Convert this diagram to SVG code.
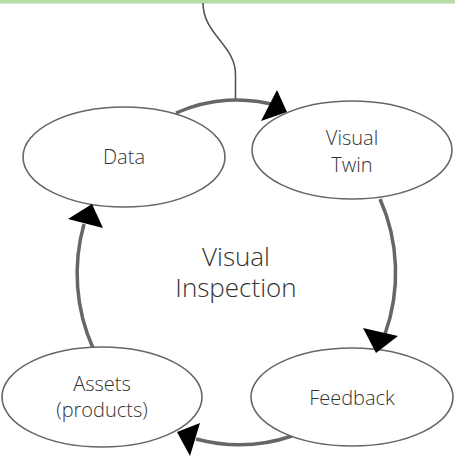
<svg xmlns="http://www.w3.org/2000/svg" width="455" height="460" viewBox="0 0 455 460">
  <style>
    .node { fill: #ffffff; stroke: #666666; stroke-width: 1.6; }
    .label { font-family: "Open Sans", "Liberation Sans", sans-serif; font-weight: 300; font-size: 20px; fill: #333333; text-anchor: middle; }
    .title { font-size: 26px; }
    .cycle { fill: none; stroke: #666666; stroke-width: 3.5; }
    .lead { fill: none; stroke: #555555; stroke-width: 1.6; }
    .head { fill: #000000; stroke: none; }
  </style>

  <!-- top band -->
  <rect x="0" y="0" width="455" height="3.5" fill="#b6dca7"/>

  <!-- cycle connectors -->
  <g id="connectors">
    <path class="lead" d="M203 3 C203 35 236 45 235.5 75 L235.5 101"/>
    <path class="cycle" d="M176 113 A158.5 170.5 0 0 1 279 106"/>
    <path class="cycle" d="M380 199 A158.5 170.5 0 0 1 385 334"/>
    <path class="cycle" d="M292 436 Q245 452 196 439"/>
    <path class="cycle" d="M93 348 A158.5 170.5 0 0 1 84 224"/>
  </g>

  <g id="data">
    <ellipse class="node" cx="124" cy="157" rx="101" ry="50"/>
    <text class="label" x="124" y="164">Data</text>
  </g>

  <g id="visual-twin">
    <ellipse class="node" cx="352" cy="150" rx="100" ry="49"/>
    <text class="label" x="352" y="145">Visual</text>
    <text class="label" x="352" y="172">Twin</text>
  </g>

  <g id="feedback">
    <ellipse class="node" cx="352" cy="397" rx="101" ry="49"/>
    <text class="label" x="352" y="405">Feedback</text>
  </g>

  <g id="assets">
    <ellipse class="node" cx="102" cy="397" rx="100" ry="50"/>
    <text class="label" x="102" y="391">Assets</text>
    <text class="label" x="102" y="417">(products)</text>
  </g>

  <g id="visual-inspection">
    <text class="label title" x="236" y="266">Visual</text>
    <text class="label title" x="236" y="297">Inspection</text>
  </g>

  <!-- arrowheads -->
  <g id="arrowheads">
    <polygon class="head" points="277,90 261,121 287,112"/>
    <polygon class="head" points="363,328 398,336 376,353"/>
    <polygon class="head" points="177,432 200,423 190,456"/>
    <polygon class="head" points="92,204 68,219 103,228"/>
  </g>
</svg>
